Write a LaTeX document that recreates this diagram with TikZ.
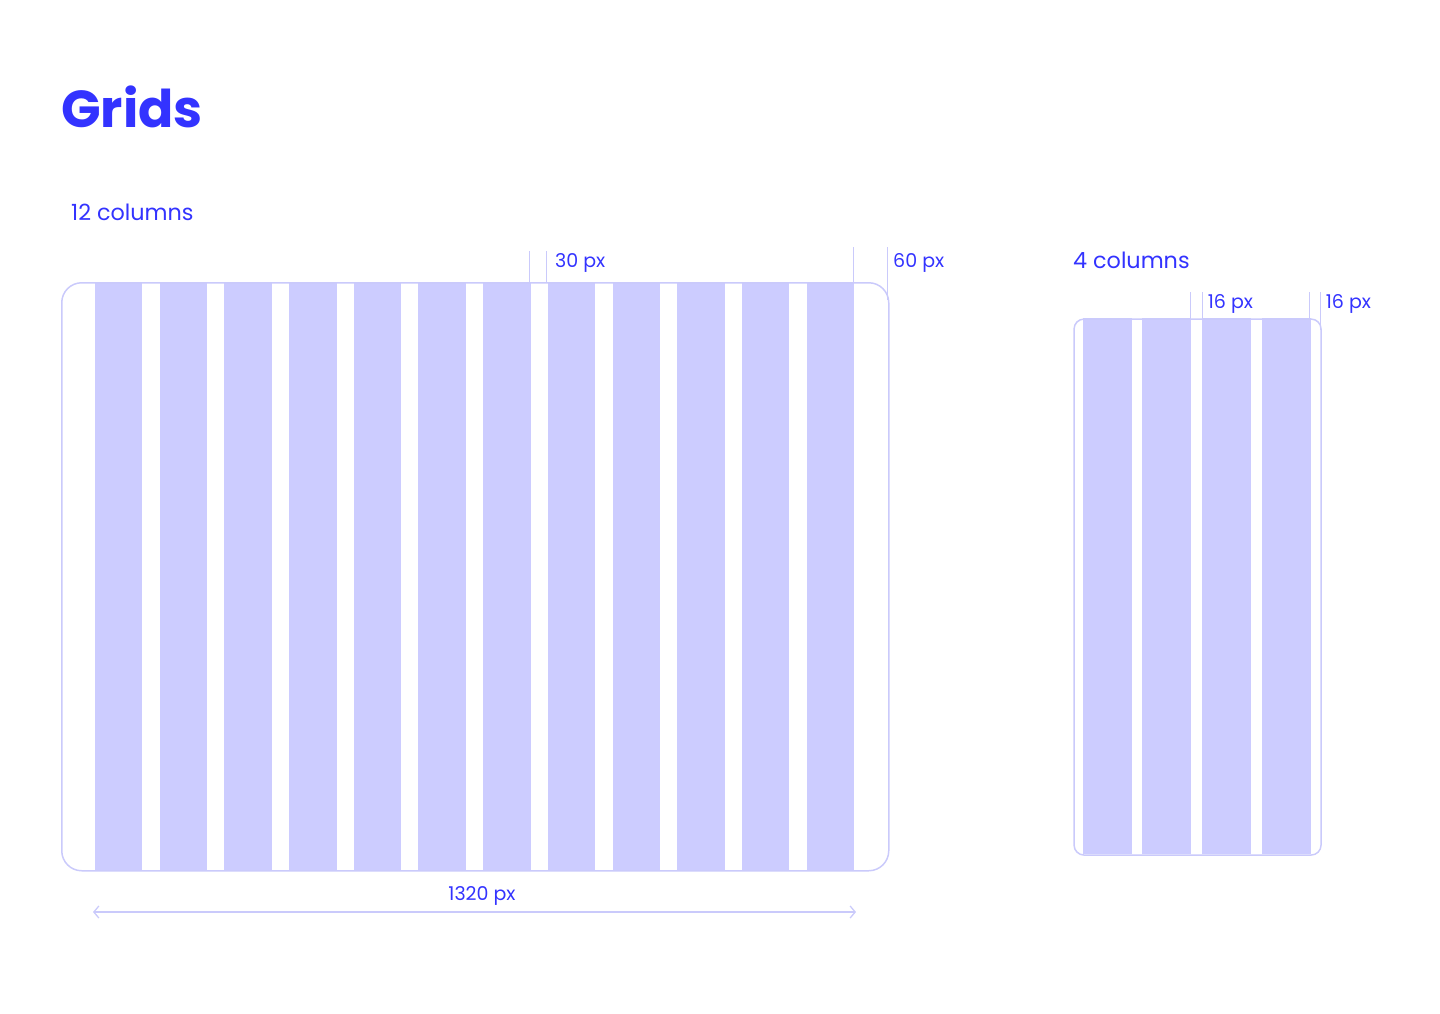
\documentclass[tikz,border=0pt]{standalone}
\usepackage{fontspec}
\setmainfont{Poppins}
\usetikzlibrary{arrows.meta}
\definecolor{ink}{HTML}{3333FF}
\definecolor{colfill}{HTML}{CCCCFF}
\definecolor{edge}{HTML}{CACAFB}
\begin{document}
\begin{tikzpicture}[x=1pt,y=-1pt,
  frame/.style={draw=edge, line width=1.5pt, inner sep=0pt, anchor=north west},
  gridcol/.style={fill=colfill},
  tick/.style={draw=edge, line width=1.3pt},
  lbl/.style={text=ink, font=\fontsize{19}{19}\selectfont, anchor=base west, inner sep=0pt},
  head/.style={text=ink, font=\fontsize{22.3}{23}\selectfont, anchor=base west, inner sep=0pt},
  dim/.style={draw=edge, line width=1.3pt, {Straight Barb[length=5pt,width=12pt]}-{Straight Barb[length=5pt,width=12pt]}},
]
\useasboundingbox (0,0) rectangle (1440,1013);

% title
\node[anchor=base west, inner sep=0pt, text=ink, font=\fontsize{52}{52}\selectfont\bfseries] (title) at (61,127) {Grids};

% ---------- 12 columns ----------
\node[head] (h12) at (71,220) {12 columns};
\foreach \i in {0,...,11}
  \fill[gridcol] ({95+\i*64.69},282) rectangle ++(47.44,588);
\node[frame, rounded corners=20pt, minimum width=827pt, minimum height=588pt] (big) at (61,282) {};

% 30 px gutter marker
\coordinate (g1t) at (529.3,251);
\coordinate (g1b) at (529.3,282);
\coordinate (g2t) at (546.7,251);
\coordinate (g2b) at (546.7,282);
\draw[tick] (g1t) -- (g1b);
\draw[tick] (g2t) -- (g2b);
\node[lbl] (l30) at (555,267) {30 px};

% 60 px margin marker
\coordinate (m1t) at (853.3,247);
\coordinate (m1b) at (853.3,282);
\coordinate (m2t) at (887.5,247);
\coordinate (m2b) at (887.5,300);
\draw[tick] (m1t) -- (m1b);
\draw[tick] (m2t) -- (m2b);
\node[lbl] (l60) at (893,267) {60 px};

% width dimension
\coordinate (dl) at (93,912);
\coordinate (dr) at (856,912);
\draw[dim] (dl) -- (dr);
\node[lbl, anchor=base] (l1320) at (482,900) {1320 px};

% ---------- 4 columns ----------
\node[head] (h4) at (1073,268) {4 columns};
\foreach \i in {0,...,3}
  \fill[gridcol] ({1082.7+\i*59.67},318.3) rectangle ++(49,536);
\node[frame, rounded corners=10pt, minimum width=247pt, minimum height=536pt] (small) at (1073.3,318.3) {};

% 16 px gutter marker
\coordinate (s1t) at (1190.3,292);
\coordinate (s1b) at (1190.3,318.3);
\coordinate (s2t) at (1202.3,292);
\coordinate (s2b) at (1202.3,318.3);
\draw[tick] (s1t) -- (s1b);
\draw[tick] (s2t) -- (s2b);
\node[lbl] (l16a) at (1207.7,308.3) {16 px};

% 16 px margin marker
\coordinate (s3t) at (1309.5,292);
\coordinate (s3b) at (1309.5,318.3);
\coordinate (s4t) at (1320.3,292);
\coordinate (s4b) at (1320.3,330);
\draw[tick] (s3t) -- (s3b);
\draw[tick] (s4t) -- (s4b);
\node[lbl] (l16b) at (1325.7,308.3) {16 px};
\end{tikzpicture}
\end{document}
